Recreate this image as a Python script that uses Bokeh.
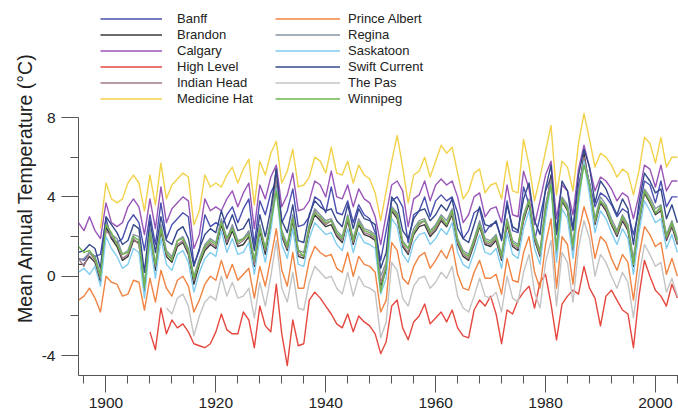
from bokeh.plotting import figure
from bokeh.models import Legend, LegendItem, FixedTicker, Range1d
from bokeh.embed import file_html
from bokeh.resources import INLINE

# ---- data (mean annual temperature, deg C) ----
banff_start = 1895
banff = [0.9, 0.8, 1.2, 1.0, 1.1,
         2.9, 1.9, 1.7, 1.9, 2.7, 3.1, 2.7, 1.3, 3.1, 1.6,
         3.7, 1.9, 2.6, 2.9, 3.2, 3.0, 0.6, 1.3, 3.1, 2.5,
         2.7, 2.5, 3.1, 3.5, 2.7, 3.4, 3.9, 1.6, 3.8, 3.1,
         4.2, 4.8, 2.7, 3.3, 4.4, 2.5, 2.6, 3.0, 4.0, 3.8,
         3.2, 4.5, 3.2, 3.1, 3.8, 2.7, 3.6, 3.1, 2.9, 2.2,
         0.8, 2.3, 3.8, 4.0, 3.5, 1.7, 3.1, 3.3, 4.0, 3.0,
         3.8, 4.1, 3.8, 4.0, 3.2, 1.9, 2.3, 3.2, 3.4, 2.2,
         2.6, 2.7, 1.9, 3.8, 2.3, 2.2, 4.5, 3.6, 1.8, 3.0,
         4.3, 5.0, 2.1, 3.8, 3.5, 2.3, 4.6, 5.8, 4.7, 3.5,
         4.2, 4.0, 3.6, 3.0, 3.4, 3.2, 2.1, 3.3, 4.8, 4.6,
         3.7, 4.8, 3.5, 4.0, 4.0]

brandon_start = 1895
brandon = [0.6, 0.6, 1.0, 0.7, -0.3, 2.5, 1.9, 1.5, 0.8, 1.0,
           1.8, 1.7, -0.8, 2.1, 0.3, 2.3, 1.0, 0.7, 1.5, 1.7,
           1.1, -0.4, 0.6, 1.3, 1.6, 1.4, 2.6, 1.6, 2.3, 1.5,
           1.6, 2.0, 0.5, 2.3, 1.1, 2.6, 5.5, 2.0, 1.3, 2.8,
           1.0, 0.9, 2.3, 3.1, 2.8, 2.5, 2.6, 2.0, 1.7, 2.8,
           1.6, 2.6, 2.1, 2.0, 1.8, -0.5, 0.3, 3.3, 2.9, 1.5,
           1.1, 2.1, 2.5, 2.6, 2.0, 2.3, 2.8, 2.5, 3.1, 1.6,
           1.0, 0.8, 1.6, 2.5, 1.6, 1.5, 1.8, 0.8, 2.6, 1.5,
           1.3, 2.8, 3.7, 1.8, 1.0, 3.3, 5.1, 1.1, 3.8, 3.3,
           1.3, 4.0, 6.2, 4.5, 2.6, 3.7, 3.3, 2.6, 2.0, 2.8,
           2.3, 0.5, 2.6, 4.2, 3.7, 3.1, 3.3, 1.8, 2.5, 1.6]

calgary_start = 1895
calgary = [2.7, 2.3, 3.0, 2.3, 1.9,
           3.7, 2.7, 2.5, 2.7, 3.5, 3.9, 3.5, 2.1, 3.9, 2.4,
           4.5, 2.7, 3.4, 3.7, 4.0, 3.8, 1.4, 2.1, 3.9, 3.3,
           3.5, 3.3, 3.9, 4.3, 3.5, 4.2, 4.7, 2.4, 4.6, 3.9,
           5.0, 5.6, 3.5, 4.1, 5.2, 3.3, 3.4, 3.8, 4.8, 4.6,
           4.0, 5.3, 4.0, 3.9, 4.6, 3.5, 4.4, 3.9, 3.7, 3.0,
           1.6, 3.1, 4.6, 4.8, 4.3, 2.5, 3.9, 4.1, 4.8, 3.8,
           4.6, 4.9, 4.6, 4.8, 4.0, 2.7, 3.1, 4.0, 4.2, 3.0,
           3.4, 3.5, 2.7, 4.6, 3.1, 3.0, 5.3, 4.4, 2.6, 3.8,
           5.1, 5.8, 2.9, 4.6, 4.3, 3.1, 5.4, 6.6, 5.5, 4.3,
           5.0, 4.8, 4.4, 3.8, 4.2, 4.0, 2.9, 4.1, 5.6, 5.4,
           4.5, 5.6, 4.3, 4.8, 4.8]

high_level_start = 1908
high_level = [-2.8, -3.7,
              -1.6, -2.9, -2.2, -2.6, -2.4, -2.8, -3.4, -3.5, -3.6, -3.4,
              -2.8, -1.9, -2.7, -2.9, -2.9, -1.8, -2.2, -3.6, -1.5, -2.5,
              -2.8, -0.4, -2.9, -4.5, -2.2, -3.5, -3.4, -1.2, -0.8, -1.1,
              -1.5, -1.9, -2.4, -2.6, -1.9, -2.8, -2.0, -2.3, -2.5, -2.9,
              -3.9, -3.3, -1.5, -1.2, -2.6, -3.2, -2.3, -2.0, -1.4, -2.4,
              -2.1, -1.8, -2.3, -1.7, -2.6, -3.0, -3.1, -1.7, -1.2, -1.5,
              -1.0, -1.9, -3.4, -1.7, -1.9, -1.2, -0.8, -0.5, -1.6, -0.3,
              0.1, -1.4, -3.2, -1.4, -1.0, -0.7, -0.9, 0.5, -0.6, -1.1,
              -2.5, -1.0, -0.7, -1.2, -1.7, -1.9, -3.6, -1.0, 0.8, 0.0,
              -0.7, -1.0, -1.5, -0.4, -1.1]

indian_head_start = 1895
indian_head = [0.9, 0.5, 1.2, 0.8, -0.1, 2.3, 2.0, 1.7, 0.9, 1.1,
               1.9, 1.6, -0.6, 2.0, 0.5, 2.5, 1.1, 0.9, 1.6, 1.8,
               1.2, -0.2, 0.8, 1.4, 1.7, 1.5, 2.8, 1.7, 2.5, 1.6,
               1.8, 2.2, 0.6, 2.5, 1.3, 2.8, 4.8, 2.1, 1.4, 3.0,
               1.1, 1.0, 2.4, 3.3, 2.9, 2.6, 2.8, 2.1, 1.8, 2.9,
               1.7, 2.8, 2.2, 2.1, 1.9, -0.3, 0.5, 3.4, 3.0, 1.6,
               1.2, 2.2, 2.6, 2.8, 2.1, 2.4, 2.9, 2.6, 3.2, 1.7,
               1.1, 0.9, 1.7, 2.6, 1.7, 1.6, 1.9, 0.9, 2.7, 1.6,
               1.4, 2.9, 3.8, 1.9, 1.1, 3.5, 4.9, 1.2, 3.9, 3.4,
               1.4, 4.1, 6.0, 4.6, 2.7, 3.8, 3.4, 2.7, 2.1, 2.9,
               2.4, 0.6, 2.7, 4.3, 3.8, 3.2, 3.4, 1.9, 2.6, 1.7]

medicine_hat_start = 1899
medicine_hat = [2.4,
                4.7, 3.9, 3.7, 3.9, 4.7, 5.1, 4.7, 3.3, 5.1, 3.6,
                5.7, 3.9, 4.6, 4.9, 5.2, 5.0, 2.6, 3.3, 5.1, 4.5,
                4.7, 4.5, 5.1, 5.5, 4.7, 5.4, 5.9, 3.6, 5.8, 5.1,
                6.2, 6.8, 4.7, 5.3, 6.4, 4.5, 4.6, 5.0, 6.0, 5.8,
                5.2, 6.5, 5.2, 5.1, 5.8, 4.7, 5.6, 5.1, 4.9, 4.2,
                2.8, 4.3, 5.8, 7.1, 5.5, 3.7, 5.1, 5.3, 6.0, 5.0,
                5.8, 6.6, 6.2, 6.5, 5.2, 3.9, 4.3, 5.2, 5.4, 4.2,
                4.6, 4.7, 3.9, 5.8, 4.3, 4.2, 6.9, 5.6, 3.8, 5.0,
                6.3, 7.6, 4.1, 5.8, 5.5, 4.3, 6.7, 8.2, 6.9, 5.5,
                6.2, 6.0, 5.6, 5.0, 5.4, 5.2, 4.1, 5.3, 7.0, 6.7,
                5.7, 7.0, 5.5, 6.0, 6.0]

prince_albert_start = 1895
prince_albert = [-1.2, -1.0, -0.6, -1.1, -1.8, 0.0, -0.3, -0.4, -1.0, -0.9,
                 -0.2, -0.3, -1.7, -0.1, -1.3, 0.3, -0.6, -1.0, -0.2, 0.0,
                 -0.5, -1.8, -1.2, -0.4, 0.0, -0.2, 0.8, -0.1, 0.6, -0.2,
                 0.1, 0.4, -1.1, 0.5, -0.5, 0.9, 2.4, 0.3, -0.5, 1.2,
                 -0.6, -0.6, 0.8, 1.5, 1.2, 1.0, 1.1, 0.4, 0.2, 1.2,
                 0.0, 1.0, 0.6, 0.5, 0.2, -1.8, -1.2, 1.7, 1.3, -0.1,
                 -0.4, 0.5, 1.0, 1.2, 0.4, 0.8, 1.3, 0.9, 1.6, 0.1,
                 -0.6, -0.7, 0.2, 0.8, -0.1, -0.1, 0.1, -0.9, 0.9, -0.2,
                 -0.3, 1.2, 2.0, 0.2, -0.6, 1.6, 2.9, -0.6, 2.0, 1.6,
                 -0.4, 2.2, 3.5, 2.6, 0.9, 2.0, 1.7, 0.9, 0.3, 1.1,
                 0.7, -1.2, 1.0, 2.5, 2.1, 1.5, 1.7, 0.1, 0.9, 0.0]

regina_start = 1895
regina = [0.8, 0.9, 1.2, 1.0, 0.1, 2.7, 2.1, 1.9, 1.1, 1.3,
          2.1, 2.0, -0.4, 2.4, 0.6, 2.6, 1.3, 1.0, 1.8, 2.0,
          1.4, 0.0, 0.9, 1.6, 1.9, 1.7, 2.9, 1.9, 2.6, 1.8,
          1.9, 2.3, 0.8, 2.6, 1.4, 2.9, 4.6, 2.3, 1.6, 3.1,
          1.3, 1.2, 2.6, 3.4, 3.1, 2.8, 2.9, 2.3, 2.0, 3.1,
          1.9, 2.9, 2.4, 2.3, 2.1, 0.0, 0.7, 3.5, 3.2, 1.8,
          1.4, 2.4, 2.8, 2.9, 2.3, 2.6, 3.1, 2.8, 3.4, 1.9,
          1.3, 1.1, 1.9, 2.8, 1.9, 1.8, 2.1, 1.1, 2.9, 1.8,
          1.6, 3.1, 3.9, 2.1, 1.3, 3.6, 4.8, 1.4, 4.0, 3.6,
          1.6, 4.2, 5.8, 4.7, 2.9, 4.0, 3.6, 2.9, 2.3, 3.1,
          2.6, 0.9, 2.9, 4.4, 4.0, 3.4, 3.6, 2.1, 2.8, 1.9]

saskatoon_start = 1895
saskatoon = [0.2, 0.4, 0.1, 0.5, -0.5, 2.0, 1.4, 1.0, 0.4, 0.6,
             1.4, 1.2, -1.1, 1.7, -0.1, 1.9, 0.6, 0.3, 1.1, 1.3,
             0.7, -0.8, 0.2, 0.9, 1.2, 1.0, 2.3, 1.2, 1.9, 1.1,
             1.2, 1.7, 0.1, 1.9, 0.7, 2.3, 4.4, 1.6, 0.9, 2.4,
             0.6, 0.5, 1.9, 2.7, 2.4, 2.1, 2.2, 1.6, 1.3, 2.4,
             1.2, 2.2, 1.7, 1.6, 1.4, -0.9, -0.1, 2.9, 2.5, 1.1,
             0.7, 1.7, 2.1, 2.2, 1.6, 1.9, 2.4, 2.1, 2.7, 1.2,
             0.6, 0.4, 1.2, 2.1, 1.2, 1.1, 1.4, 0.4, 2.2, 1.1,
             0.9, 2.4, 3.3, 1.4, 0.6, 2.9, 4.6, 0.7, 3.4, 2.9,
             0.9, 3.6, 5.8, 4.1, 2.2, 3.3, 2.9, 2.2, 1.6, 2.4,
             1.9, 0.1, 2.2, 3.8, 3.3, 2.7, 2.9, 1.4, 2.1, 1.2]

swift_current_start = 1895
swift_current = [1.2, 1.3, 1.6, 1.4, 0.4, 3.0, 2.6, 2.2, 1.6, 1.8,
                 2.6, 2.4, 0.2, 2.8, 1.2, 3.0, 1.8, 1.6, 2.3, 2.5,
                 1.9, 0.5, 1.4, 2.1, 2.4, 2.2, 3.3, 2.4, 3.1, 2.3,
                 2.4, 2.9, 1.3, 3.1, 2.0, 3.4, 5.4, 2.8, 2.2, 3.6,
                 1.8, 1.7, 3.1, 3.8, 3.5, 3.3, 3.4, 2.8, 2.5, 3.6,
                 2.4, 3.4, 2.9, 2.8, 2.6, 0.4, 1.2, 4.0, 3.6, 2.3,
                 1.9, 2.9, 3.3, 3.4, 2.8, 3.1, 3.6, 3.3, 3.9, 2.4,
                 1.9, 1.7, 2.6, 3.5, 2.6, 2.5, 2.8, 1.8, 3.6, 2.5,
                 2.3, 3.9, 4.7, 2.8, 2.1, 4.4, 5.6, 2.2, 4.8, 4.3,
                 2.4, 5.1, 6.4, 5.5, 3.7, 4.8, 4.4, 3.7, 3.1, 3.9,
                 3.4, 1.6, 3.7, 5.2, 4.8, 4.2, 4.4, 2.9, 3.6, 2.7]

the_pas_start = 1911
the_pas = [-1.6, -1.9, -1.1, -0.9, -1.5, -3.0, -2.0, -1.3, -1.0,
           -1.2, 0.0, -1.0, -0.3, -1.1, -1.0, -0.6, -2.1, -0.3, -1.5,
           0.0, 1.8, -0.6, -1.3, 0.2, -1.6, -1.7, -0.3, 0.5, 0.2,
           -0.1, 0.0, -0.6, -0.9, 0.2, -1.0, 0.0, -0.5, -0.6, -0.8,
           -3.1, -2.3, 0.7, 0.3, -1.1, -1.5, -0.5, -0.1, 0.0, -0.6,
           -0.3, 0.2, -0.1, 0.5, -1.0, -1.6, -1.8, -1.0, -0.1, -1.0,
           -1.1, -0.8, -1.8, 0.0, -1.1, -1.3, 0.2, 1.1, -0.8, -1.6,
           0.7, 1.8, -1.5, 1.2, 0.7, -1.3, 1.4, 2.8, 1.9, 0.0,
           1.1, 0.7, 0.0, -0.6, 0.2, -0.3, -2.1, 0.0, 1.6, 1.1,
           0.5, 0.7, -0.8, -0.1, -1.0]

winnipeg_start = 1895
winnipeg = [1.5, 1.2, 1.3, 0.9, 0.0, 2.6, 2.2, 1.6, 1.1, 1.2,
            2.0, 1.8, -0.6, 2.2, 0.6, 2.4, 1.2, 0.8, 1.8, 1.9,
            1.3, -0.1, 0.7, 1.5, 1.8, 1.6, 2.7, 1.9, 2.4, 1.7,
            1.9, 2.1, 0.8, 2.4, 1.4, 2.7, 4.3, 2.2, 1.5, 2.9,
            1.3, 1.0, 2.5, 3.2, 3.0, 2.7, 2.8, 2.2, 1.9, 3.0,
            1.8, 2.7, 2.3, 2.2, 2.0, -0.8, 0.5, 3.4, 3.1, 1.7,
            1.4, 2.2, 2.7, 2.8, 2.2, 2.5, 3.0, 2.6, 3.3, 1.8,
            1.2, 1.0, 1.8, 2.6, 1.8, 1.7, 2.0, 1.0, 2.8, 1.7,
            1.5, 3.0, 3.8, 2.0, 1.2, 3.4, 4.6, 1.3, 3.9, 3.4,
            1.5, 4.0, 5.6, 4.6, 2.8, 3.8, 3.5, 2.7, 2.2, 3.0,
            2.5, 0.6, 2.8, 4.3, 3.8, 3.2, 3.5, 2.0, 2.7, 1.8]

x_ticks = [1900, 1920, 1940, 1960, 1980, 2000]
x_minor_ticks = list(range(1896, 2005, 4))
y_ticks = [-4, 0, 4, 8]
y_minor_ticks = [-2, 2, 6]
y_label = "Mean Annual Temperature (\u00b0C)"

series = [
    ("Banff", banff_start, banff, "#4a4fb0"),
    ("Brandon", brandon_start, brandon, "#3a3a3a"),
    ("Calgary", calgary_start, calgary, "#9a55b8"),
    ("High Level", high_level_start, high_level, "#e5473f"),
    ("Indian Head", indian_head_start, indian_head, "#a07a86"),
    ("Medicine Hat", medicine_hat_start, medicine_hat, "#f2d24a"),
    ("Prince Albert", prince_albert_start, prince_albert, "#f08442"),
    ("Regina", regina_start, regina, "#8795a2"),
    ("Saskatoon", saskatoon_start, saskatoon, "#80cdf0"),
    ("Swift Current", swift_current_start, swift_current, "#34488c"),
    ("The Pas", the_pas_start, the_pas, "#c4c4c4"),
    ("Winnipeg", winnipeg_start, winnipeg, "#6fb64e"),
]

FONT = "Liberation Sans"

# The frame reaches the top of the figure so that the legends (drawn in the
# frame) are visible; the y axis itself is bounded to -5..8.
Y_MIN, Y_AXIS_TOP = -5, 8
FRAME_H = 375            # frame height in px (top of figure to x axis)
AXIS_H = 258             # px between -5 and 8
y_top = Y_MIN + (Y_AXIS_TOP - Y_MIN) * FRAME_H / AXIS_H

p = figure(width=678, height=417, output_backend="svg", toolbar_location=None,
           x_range=Range1d(1895, 2004.2), y_range=Range1d(Y_MIN, y_top),
           min_border_left=78, min_border_right=0, min_border_top=0,
           min_border_bottom=42)
p.outline_line_color = None
p.xgrid.visible = False
p.ygrid.visible = False
p.background_fill_color = "white"
p.border_fill_color = "white"

items = []
for name, start, vals, color in series:
    xs = list(range(start, start + len(vals)))
    r = p.line(xs, vals, line_color=color, line_width=1.4, line_join="round")
    items.append(LegendItem(label=name, renderers=[r]))

# axes
xa = p.xaxis[0]
ya = p.yaxis[0]
xa.ticker = FixedTicker(ticks=x_ticks, minor_ticks=x_minor_ticks)
ya.ticker = FixedTicker(ticks=y_ticks, minor_ticks=y_minor_ticks)
ya.bounds = (Y_MIN, Y_AXIS_TOP)
ya.major_label_overrides = {t: str(t) for t in y_ticks}
for ax in (xa, ya):
    ax.axis_line_color = "#555555"
    ax.major_tick_line_color = "#555555"
    ax.minor_tick_line_color = "#555555"
    ax.major_tick_in = 0
    ax.minor_tick_in = 0
    ax.major_tick_out = 17
    ax.minor_tick_out = 8
    ax.major_label_text_font = FONT
    ax.major_label_text_font_size = "15.5px"
    ax.major_label_text_color = "#222222"
xa.major_label_standoff = 5
ya.major_label_standoff = 6
ya.axis_label = y_label
ya.axis_label_text_font = FONT
ya.axis_label_text_font_size = "19.5px"
ya.axis_label_text_font_style = "normal"
ya.axis_label_text_color = "#222222"
ya.axis_label_standoff = 3

common = dict(padding=0, margin=0, spacing=1, glyph_height=15, label_height=15,
              border_line_alpha=0, background_fill_alpha=0,
              label_text_font=FONT, label_text_font_size="13px",
              label_text_color="#222222")
leg1 = Legend(items=items[:6], location=(22, 269), glyph_width=62,
              label_standoff=15, **common)
leg2 = Legend(items=items[6:], location=(197, 269), glyph_width=65,
              label_standoff=8, **common)
p.add_layout(leg1)
p.add_layout(leg2)

open("out.html", "w").write(file_html(p, INLINE))
